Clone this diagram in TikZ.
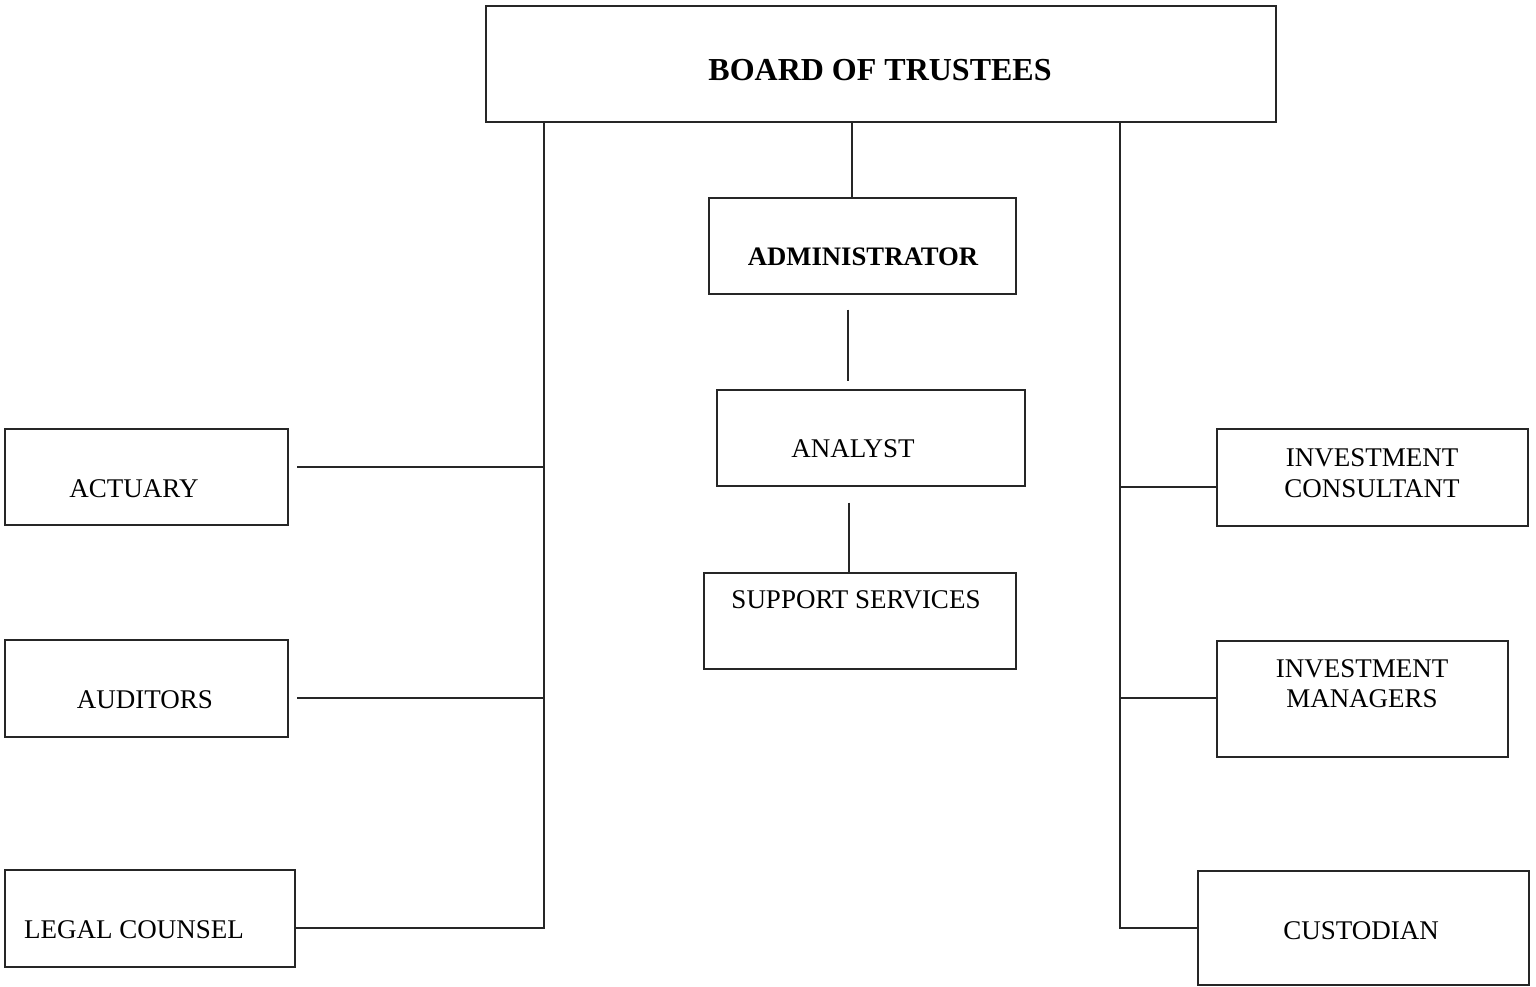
\documentclass[tikz,border=0pt]{standalone}
\usepackage{fontspec}
\setmainfont{Liberation Serif}
\begin{document}
\begin{tikzpicture}[x=1pt,y=-1pt,
  box/.style={draw=black!85, line width=1.4pt, inner sep=0pt},
  conn/.style={draw=black!85, line width=1.5pt},
  lbl/.style={anchor=base, inner sep=0pt, font=\fontsize{27}{31}\selectfont},
  blbl/.style={lbl, font=\fontsize{26.7}{31}\selectfont\bfseries}]
\useasboundingbox (0,0) rectangle (1536,986);
% boxes
\node[box, minimum width=790pt, minimum height=116pt] (board) at (881,64) {};
\node[box, minimum width=307pt, minimum height=96pt] (admin) at (862.5,246) {};
\node[box, minimum width=308pt, minimum height=96pt] (analyst) at (871,438) {};
\node[box, minimum width=312pt, minimum height=96pt] (support) at (860,621) {};
\node[box, minimum width=283pt, minimum height=96pt] (act) at (146.5,477) {};
\node[box, minimum width=283pt, minimum height=97pt] (aud) at (146.5,688.5) {};
\node[box, minimum width=290pt, minimum height=97pt] (legal) at (150,918.5) {};
\node[box, minimum width=311pt, minimum height=97pt] (cons) at (1372.5,477.5) {};
\node[box, minimum width=291pt, minimum height=116pt] (mgr) at (1362.5,699) {};
\node[box, minimum width=331pt, minimum height=114pt] (cust) at (1363.5,928) {};
% labels
\node[lbl, font=\fontsize{32}{38}\selectfont\bfseries] (tboard) at (880,80) {BOARD OF TRUSTEES};
\node[blbl] (tadmin) at (863,265) {ADMINISTRATOR};
\node[lbl] (tanalyst) at (853,457) {ANALYST};
\node[lbl] (tsupport) at (856,608) {SUPPORT SERVICES};
\node[lbl] (tact) at (134,497) {ACTUARY};
\node[lbl] (taud) at (145,708) {AUDITORS};
\node[lbl] (tlegal) at (134,938) {LEGAL COUNSEL};
\node[lbl] (tcons1) at (1372,466) {INVESTMENT};
\node[lbl] (tcons2) at (1372,497) {CONSULTANT};
\node[lbl] (tmgr1) at (1362,677) {INVESTMENT};
\node[lbl] (tmgr2) at (1362,707) {MANAGERS};
\node[lbl] (tcust) at (1361,939) {CUSTODIAN};
% junction coordinates
\coordinate (lbus) at (544,928);
\coordinate (actj) at (544,467);
\coordinate (audj) at (544,698);
\coordinate (rbus) at (1120,928);
\coordinate (consj) at (1120,487);
\coordinate (mgrj) at (1120,698);
\coordinate (c1) at (852,0);
\coordinate (c2) at (848,0);
\coordinate (c3) at (849,0);
% left bus
\draw[conn] (board.south -| lbus) -- (lbus) -- (legal.east |- lbus);
\draw[conn] (actj) -- ([xshift=8pt]act.east |- actj);
\draw[conn] (audj) -- ([xshift=8pt]aud.east |- audj);
% right bus
\draw[conn] (board.south -| rbus) -- (rbus) -- (cust.west |- rbus);
\draw[conn] (consj) -- (cons.west |- consj);
\draw[conn] (mgrj) -- (mgr.west |- mgrj);
% centre column
\draw[conn] (board.south -| c1) -- (admin.north -| c1);
\draw[conn] ([yshift=-15pt]admin.south -| c2) -- ([yshift=8pt]analyst.north -| c2);
\draw[conn] ([yshift=-16pt]analyst.south -| c3) -- (support.north -| c3);
\end{tikzpicture}
\end{document}
